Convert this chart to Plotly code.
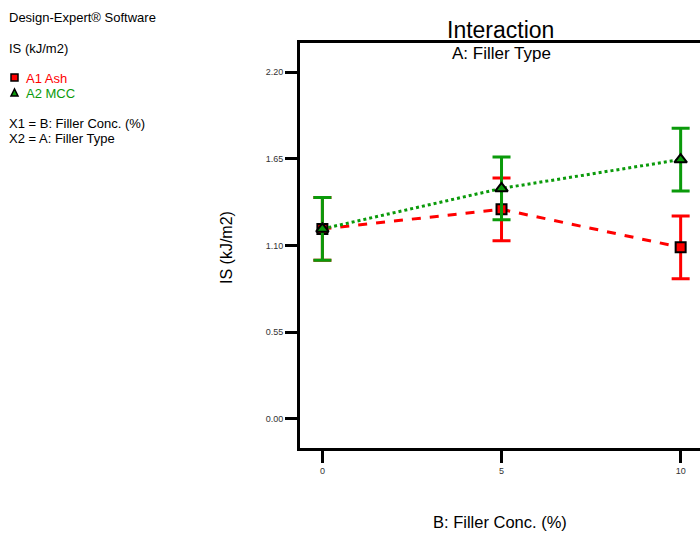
import plotly.graph_objects as go

# ---- data ----
conc = [0, 5, 10]
ash_is = [1.205, 1.329, 1.088]
mcc_is = [1.205, 1.462, 1.645]
ash_err = [0.199, 0.199, 0.199]
mcc_err = [0.199, 0.199, 0.199]
y_ticks = [0.00, 0.55, 1.10, 1.65, 2.20]
x_ticks = [0, 5, 10]

RED = "#ff0000"
GREEN = "#0a9a0a"
FONT = "Liberation Sans, Arial, sans-serif"

W, H = 700, 533
L, R, T, B = 300, 0, 43, 85
PW, PH = W - L - R, H - T - B

def px(x):
    return (x - L) / PW

def py(y):
    return (H - B - y) / PH

fig = go.Figure()
fig.add_trace(go.Scatter(
    x=conc, y=ash_is, mode="lines+markers", name="A1 Ash",
    line=dict(color=RED, width=3, dash="dash"),
    marker=dict(symbol="square", size=10, color=RED, line=dict(color="black", width=2)),
    error_y=dict(type="data", array=ash_err, color=RED, thickness=3, width=9),
))
fig.add_trace(go.Scatter(
    x=conc, y=mcc_is, mode="lines+markers", name="A2 MCC",
    line=dict(color=GREEN, width=3, dash="dot"),
    marker=dict(symbol="triangle-up", size=11, color=GREEN, line=dict(color="black", width=2)),
    error_y=dict(type="data", array=mcc_err, color=GREEN, thickness=3, width=9),
))

ann = []
def text(s, x, y, size, color="black", xanchor="left", angle=0):
    ann.append(dict(text=s, x=px(x), y=py(y), xref="paper", yref="paper",
                    showarrow=False, xanchor=xanchor, yanchor="middle",
                    textangle=angle, font=dict(family=FONT, size=size, color=color)))

text("Design-Expert® Software", 7, 18, 13)
text("IS (kJ/m2)", 7, 48, 13)
text("A1 Ash", 24, 78, 13, RED)
text("A2 MCC", 24, 93, 13, GREEN)
text("X1 = B: Filler Conc. (%)", 7, 123, 13)
text("X2 = A: Filler Type", 7, 138, 13)
text("Interaction", 500, 30, 23, xanchor="center")
text("A: Filler Type", 501, 54, 17, xanchor="center")
text("IS (kJ/m2)", 226, 248, 16, xanchor="center", angle=-90)
text("B: Filler Conc. (%)", 500, 522, 16.5, xanchor="center")

shapes = [
    dict(type="rect", xref="paper", yref="paper",
         x0=px(11), x1=px(18), y0=py(81), y1=py(74),
         fillcolor=RED, line=dict(color="black", width=1.5)),
    dict(type="path", xref="paper", yref="paper",
         path=f"M {px(11)},{py(96)} L {px(18)},{py(96)} L {px(14.5)},{py(89)} Z",
         fillcolor=GREEN, line=dict(color="black", width=1.5)),
]

fig.update_layout(
    width=W, height=H, margin=dict(l=L, r=R, t=T, b=B),
    paper_bgcolor="white", plot_bgcolor="white", showlegend=False,
    annotations=ann, shapes=shapes,
    xaxis=dict(range=[-0.625, 10.54], tickvals=x_ticks, ticktext=[str(v) for v in x_ticks],
               showgrid=False, zeroline=False, showline=True, linecolor="black", linewidth=3,
               mirror=True, ticks="outside", ticklen=12, tickwidth=3, tickcolor="black",
               tickfont=dict(family=FONT, size=9, color="#333")),
    yaxis=dict(range=[-0.186, 2.385], tickvals=y_ticks, ticktext=[f"{v:.2f}" for v in y_ticks],
               showgrid=False, zeroline=False, showline=True, linecolor="black", linewidth=3,
               mirror=False, ticks="outside", ticklen=12, tickwidth=3, tickcolor="black",
               tickfont=dict(family=FONT, size=9, color="#333")),
)

fig.write_html("out.html", config={"displayModeBar": False},
               post_script="document.body.style.margin='0px';document.body.style.overflow='hidden';")
